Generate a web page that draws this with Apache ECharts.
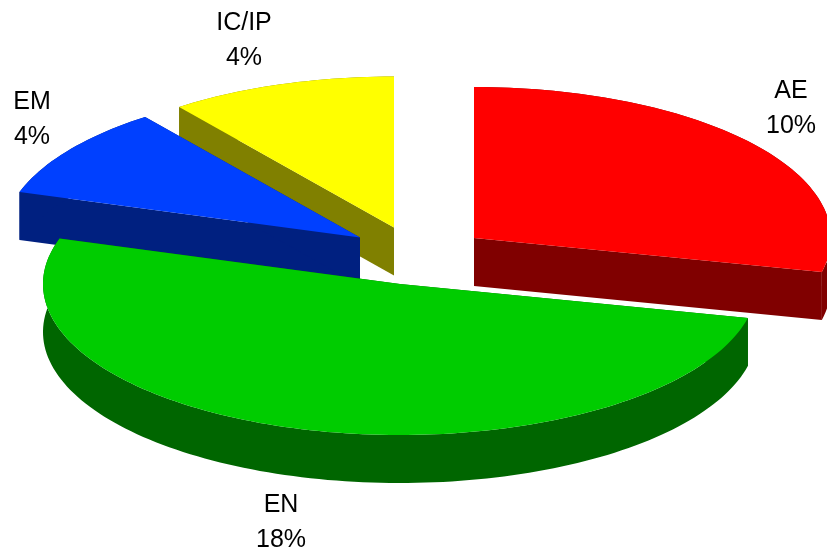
<!DOCTYPE html>
<html>
<head>
<meta charset="utf-8">
<style>html,body{margin:0;padding:0;background:#fff}#main{width:827px;height:554px}</style>
<script src="https://cdn.jsdelivr.net/npm/echarts@6/dist/echarts.min.js"></script>
</head>
<body>
<div id="main"></div>
<script>
// Data (slice sizes by angle; labels show them rounded)
var categories = ['AE', 'EN', 'EM', 'IC/IP'];
var values = [10.3, 18.45, 3.55, 3.7];

// Styles
var topColors = ['#ff0000', '#00cc00', '#0040ff', '#ffff00'];
var sideColors = ['#800000', '#006600', '#002080', '#808000'];

// Layout: the pie's projection and each exploded slice's apex, label and stacking
var RX = 357, RY = 151, DEPTH = 48;
var apexes = [[474, 238], [400, 284], [360, 237.5], [394, 227.5]];
var labelCenters = [[791, 108.5], [281, 522.5], [32, 119.5], [244, 41]];
var stacking = [4, 3, 2, 1];
var FONT_SIZE = 25, LINE_GAP = 35;

var total = values.reduce(function (a, b) { return a + b; }, 0);

function ringPoint(apex, angle, drop) {
  return [apex[0] + RX * Math.sin(angle), apex[1] - RY * Math.cos(angle) + drop];
}

function renderSlice(params, api) {
  var i = params.dataIndex;
  var before = 0;
  for (var k = 0; k < i; k++) before += values[k];
  var a0 = before / total * 2 * Math.PI;
  var a1 = (before + api.value(0)) / total * 2 * Math.PI;
  var apex = apexes[i];
  var steps = Math.max(8, Math.round((a1 - a0) * 40));
  var arc = [], arcLow = [];
  for (var s = 0; s <= steps; s++) {
    var t = a0 + (a1 - a0) * s / steps;
    arc.push(ringPoint(apex, t, 0));
    arcLow.push(ringPoint(apex, t, DEPTH));
  }
  var apexLow = [apex[0], apex[1] + DEPTH];
  var z = stacking[i] * 10;
  var poly = function (pts, fill, dz) {
    return { type: 'polygon', z2: z + dz, shape: { points: pts }, style: { fill: fill, stroke: null } };
  };
  var side = sideColors[i];
  var children = [
    poly([apex, arc[0], arcLow[0], apexLow], side, 0),
    poly([apex, arc[steps], arcLow[steps], apexLow], side, 0),
    poly(arc.concat(arcLow.slice().reverse()), side, 0),
    poly([apex].concat(arc), topColors[i], 1)
  ];
  var c = labelCenters[i];
  var lines = [categories[i], Math.round(api.value(0)) + '%'];
  lines.forEach(function (txt, n) {
    children.push({
      type: 'text',
      z2: 100,
      x: c[0],
      y: c[1] + (n - 0.5) * LINE_GAP,
      style: {
        text: txt, fill: '#000', align: 'center', verticalAlign: 'middle',
        font: FONT_SIZE + 'px "Liberation Sans", Arial, sans-serif'
      }
    });
  });
  return { type: 'group', children: children };
}

var chart = echarts.init(document.getElementById('main'), null, { renderer: 'canvas' });
chart.setOption({
  animation: false,
  backgroundColor: '#ffffff',
  tooltip: { show: false },
  series: [{
    type: 'custom',
    coordinateSystem: 'none',
    clip: false,
    silent: true,
    renderItem: renderSlice,
    data: values.map(function (v, i) { return { name: categories[i], value: [v] }; })
  }]
});
</script>
</body>
</html>
